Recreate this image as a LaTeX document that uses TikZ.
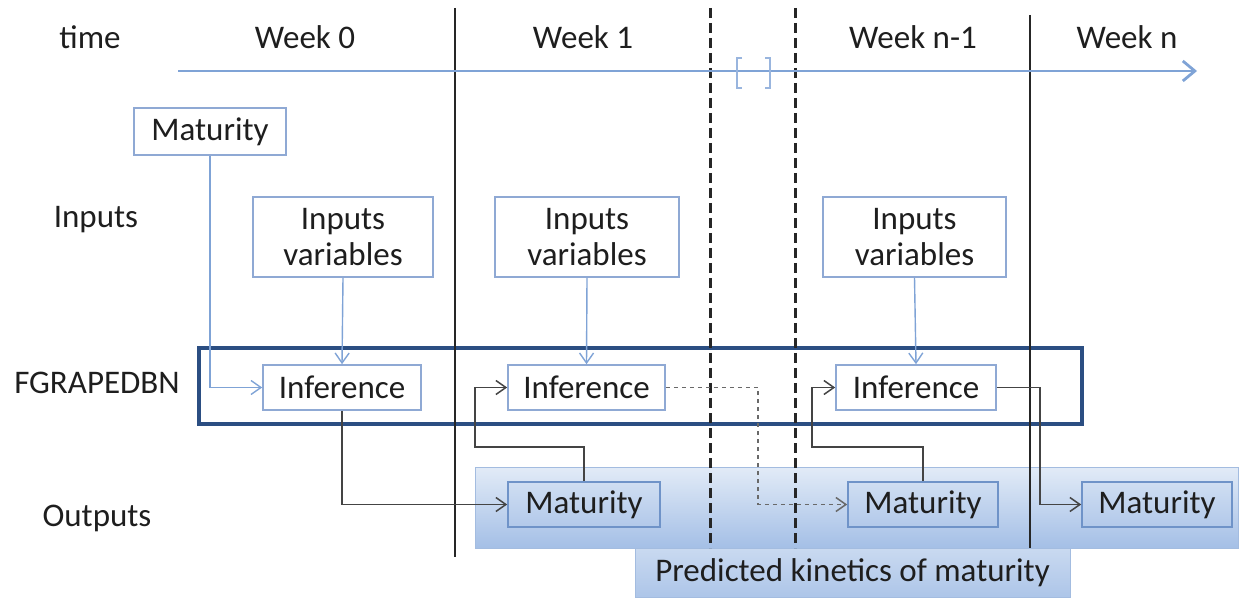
\documentclass[tikz,border=0pt]{standalone}
\usepackage{fontspec}
\setmainfont{Carlito}
\usetikzlibrary{arrows.meta}
\definecolor{txt}{HTML}{1E1E1E}
\definecolor{lightln}{HTML}{7FA3D6}
\definecolor{boxln}{HTML}{8FA9D4}
\definecolor{darkbox}{HTML}{2B4E82}
\definecolor{conn}{HTML}{444444}
\definecolor{bandtop}{HTML}{E2EBF7}
\definecolor{bandbot}{HTML}{A4BFE6}
\definecolor{bandln}{HTML}{A3BCE0}
\definecolor{outln}{HTML}{6F93C8}
\tikzset{
  lbl/.style={text=txt, font=\fontsize{16.5}{17}\selectfont},
  wbox/.style={draw=boxln, line width=0.8pt, fill=white, text=txt, font=\fontsize{16.5}{17}\selectfont, inner sep=0pt, align=center},
  obox/.style={draw=outln, line width=0.8pt, top color=bandtop!70!bandbot, bottom color=bandbot!85!white, text=txt, font=\fontsize{16.5}{17}\selectfont, inner sep=0pt},
  bluearrow/.style={draw=lightln, line width=0.7pt, -{Straight Barb[length=5pt,width=7pt]}},
  blackarrow/.style={draw=conn, line width=0.75pt, -{Straight Barb[length=5pt,width=7pt]}},
  sep/.style={draw=black!85, line width=1.4pt},
  dsep/.style={draw=black!85, line width=1.5pt, dash pattern=on 5pt off 2.5pt},
}
\begin{document}
\begin{tikzpicture}[x=0.5pt,y=-0.5pt]
\useasboundingbox (0,0) rectangle (1241,598);
% band and predicted box
\path[top color=bandtop, bottom color=bandbot, draw=bandln, line width=0.5pt] (475,467) rectangle (1238,548);
\node[draw=bandln, line width=0.5pt, top color=bandtop!60!bandbot, bottom color=bandbot!90!white, minimum width=217.5pt, minimum height=24.5pt, inner sep=0pt, text=txt, font=\fontsize{16.5}{17}\selectfont] (pred) at (852.5,572.5) {Predicted kinetics of maturity};
% separators
\coordinate (s1t) at (455,8); \coordinate (s1b) at (455,557);
\coordinate (s2t) at (1030,15); \coordinate (s2b) at (1030,548);
\coordinate (d1t) at (710,8); \coordinate (d1b) at (710,548);
\coordinate (d2t) at (795,8); \coordinate (d2b) at (795,548);
% FGRAPEDBN box
\path[draw=darkbox, line width=1.7pt] (199,348) rectangle (1082,424);
\draw[sep] (s1t) -- (s1b);
\draw[sep] (s2t) -- (s2b);
\draw[dsep] (d1t) -- (d1b);
\draw[dsep] (d2t) -- (d2b);
% timeline
\coordinate (ta) at (178,71); \coordinate (tb) at (1197,71);
\draw[draw=lightln, line width=1.4pt, -{Straight Barb[length=6pt,width=10pt]}] (ta) -- (tb);
\draw[draw=lightln!80, line width=0.8pt] (742,58) -- (737,58) -- (737,88) -- (742,88);
\draw[draw=lightln!80, line width=0.8pt] (765,58) -- (770,58) -- (770,88) -- (765,88);
% labels
\node[lbl] (ltime) at (90,37) {time};
\node[lbl] (w0) at (305,37) {Week 0};
\node[lbl] (w1) at (583,37) {Week 1};
\node[lbl] (wn1) at (913,37) {Week n-1};
\node[lbl] (wn) at (1127,37) {Week n};
\node[lbl] (linp) at (96,220) {Inputs};
\node[lbl] (lfg) at (97,383) {FGRAPEDBN};
\node[lbl] (lout) at (97,518) {Outputs};
% boxes
\node[wbox, minimum width=76pt, minimum height=23.5pt] (mat0) at (210,131.5) {Maturity};
\node[wbox, minimum width=90pt, minimum height=40pt] (in1) at (343,237) {Inputs\\[1pt]variables};
\node[wbox, minimum width=92pt, minimum height=40pt] (in2) at (587,237) {Inputs\\[1pt]variables};
\node[wbox, minimum width=91.5pt, minimum height=40pt] (in3) at (914.5,237) {Inputs\\[1pt]variables};
\node[wbox, minimum width=79pt, minimum height=22.5pt] (inf1) at (342,387.5) {Inference};
\node[wbox, minimum width=78.5pt, minimum height=22.5pt] (inf2) at (586.5,387.5) {Inference};
\node[wbox, minimum width=80pt, minimum height=22.5pt] (inf3) at (916,387.5) {Inference};
\node[obox, minimum width=76pt, minimum height=22.5pt] (out1) at (584,504.5) {Maturity};
\node[obox, minimum width=75pt, minimum height=22.5pt] (out2) at (923,504.5) {Maturity};
\node[obox, minimum width=75pt, minimum height=22.5pt] (out3) at (1157,504.5) {Maturity};
% connectors
\draw[bluearrow] (mat0.south) |- (inf1.west);
\draw[bluearrow] (in1.south) -- (inf1.north);
\draw[bluearrow] (in2.south) -- (inf2.north);
\draw[bluearrow] (in3.south) -- (inf3.north);
\draw[blackarrow] (inf1.south) |- (out1.west);
\coordinate (k1) at (475,447);
\draw[blackarrow] (out1.north) |- (k1) |- (inf2.west);
\coordinate (k2) at (812,447);
\draw[blackarrow] (out2.north) |- (k2) |- (inf3.west);
\coordinate (k3) at (758,450);
\draw[blackarrow, draw=conn!80, dash pattern=on 2pt off 2pt] (inf2.east) -| (k3) |- (out2.west);
\coordinate (k4) at (1040,450);
\draw[blackarrow] (inf3.east) -| (k4) |- (out3.west);
\end{tikzpicture}
\end{document}
